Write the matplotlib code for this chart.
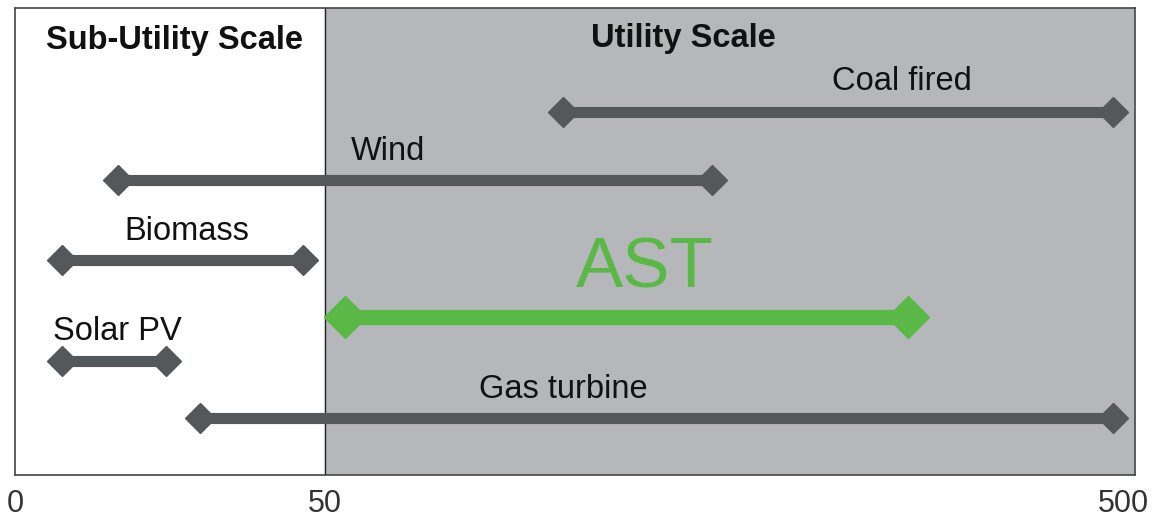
import matplotlib.pyplot as plt
import matplotlib.transforms as mtrans
import numpy as np

plt.rcParams['font.family'] = ['Liberation Sans', 'DejaVu Sans']

# capacity ranges (MW)
techs = ["Coal fired", "Wind", "Biomass", "AST", "Solar PV", "Gas turbine"]
low = [182, 16.6, 7.6, 61, 7.6, 29.8]
high = [488, 265, 46.5, 374, 24.4, 488]
rows = [363, 295, 215, 158, 114, 57]
ticks = [0, 50, 500]
split = 50


def fwd(x):
    x = np.asarray(x, dtype=float)
    return np.where(x <= split, x * 6.2, 310 + (x - split) * 1.8)


def inv(p):
    p = np.asarray(p, dtype=float)
    return np.where(p <= 310, p / 6.2, split + (p - 310) / 1.8)


fig = plt.figure(figsize=(11.62, 5.2), dpi=100)
ax = fig.add_axes([15 / 1162, 1 - 475 / 520, 1120 / 1162, 467 / 520])
ax.set_xscale('function', functions=(fwd, inv))
ax.set_xlim(0, 500)
ax.set_ylim(0, 467)

ax.axvspan(split, 500, color='#b6b7ba', zorder=0)
ax.axvline(split, color='#222222', lw=1, zorder=1)

gray = '#55585b'
green = '#5ab946'
label_pos = {
    "Coal fired": (902, 393),
    "Wind": (388, 323),
    "Biomass": (187, 243),
    "AST": (645, 205),
    "Solar PV": (117, 143),
    "Gas turbine": (563, 85),
}
for name, a, b, y in zip(techs, low, high, rows):
    if name == "AST":
        ax.plot([a, b], [y, y], color=green, lw=11, marker='D', ms=21,
                solid_capstyle='butt', zorder=3)
    else:
        ax.plot([a, b], [y, y], color=gray, lw=8, marker='D', ms=15,
                solid_capstyle='butt', zorder=3)
    px, py = label_pos[name]
    tx = inv(px - 15)
    if name == "AST":
        ax.text(tx, py, name, color=green, fontsize=51, ha='center', va='center')
    else:
        ax.text(tx, py, name, color='#111111', fontsize=23.5, ha='center', va='center')

ax.text(inv(175 - 15), 435, "Sub-Utility Scale", fontsize=23.5, fontweight='bold',
        ha='center', va='center', color='#111111')
ax.text(inv(683 - 15), 437, "Utility Scale", fontsize=23.5, fontweight='bold',
        ha='center', va='center', color='#111111')

ax.set_yticks([])
ax.set_xticks(ticks)
ax.set_xticklabels([str(t) for t in ticks], fontsize=22, color='#333333')
ax.tick_params(axis='x', length=0, pad=10)
last = ax.get_xticklabels()[-1]
last.set_transform(last.get_transform() + mtrans.ScaledTranslation(-12 / 100, 0, fig.dpi_scale_trans))
for s in ax.spines.values():
    s.set_color('#444444')
    s.set_linewidth(1.2)

fig.savefig('out.png', dpi=100)
